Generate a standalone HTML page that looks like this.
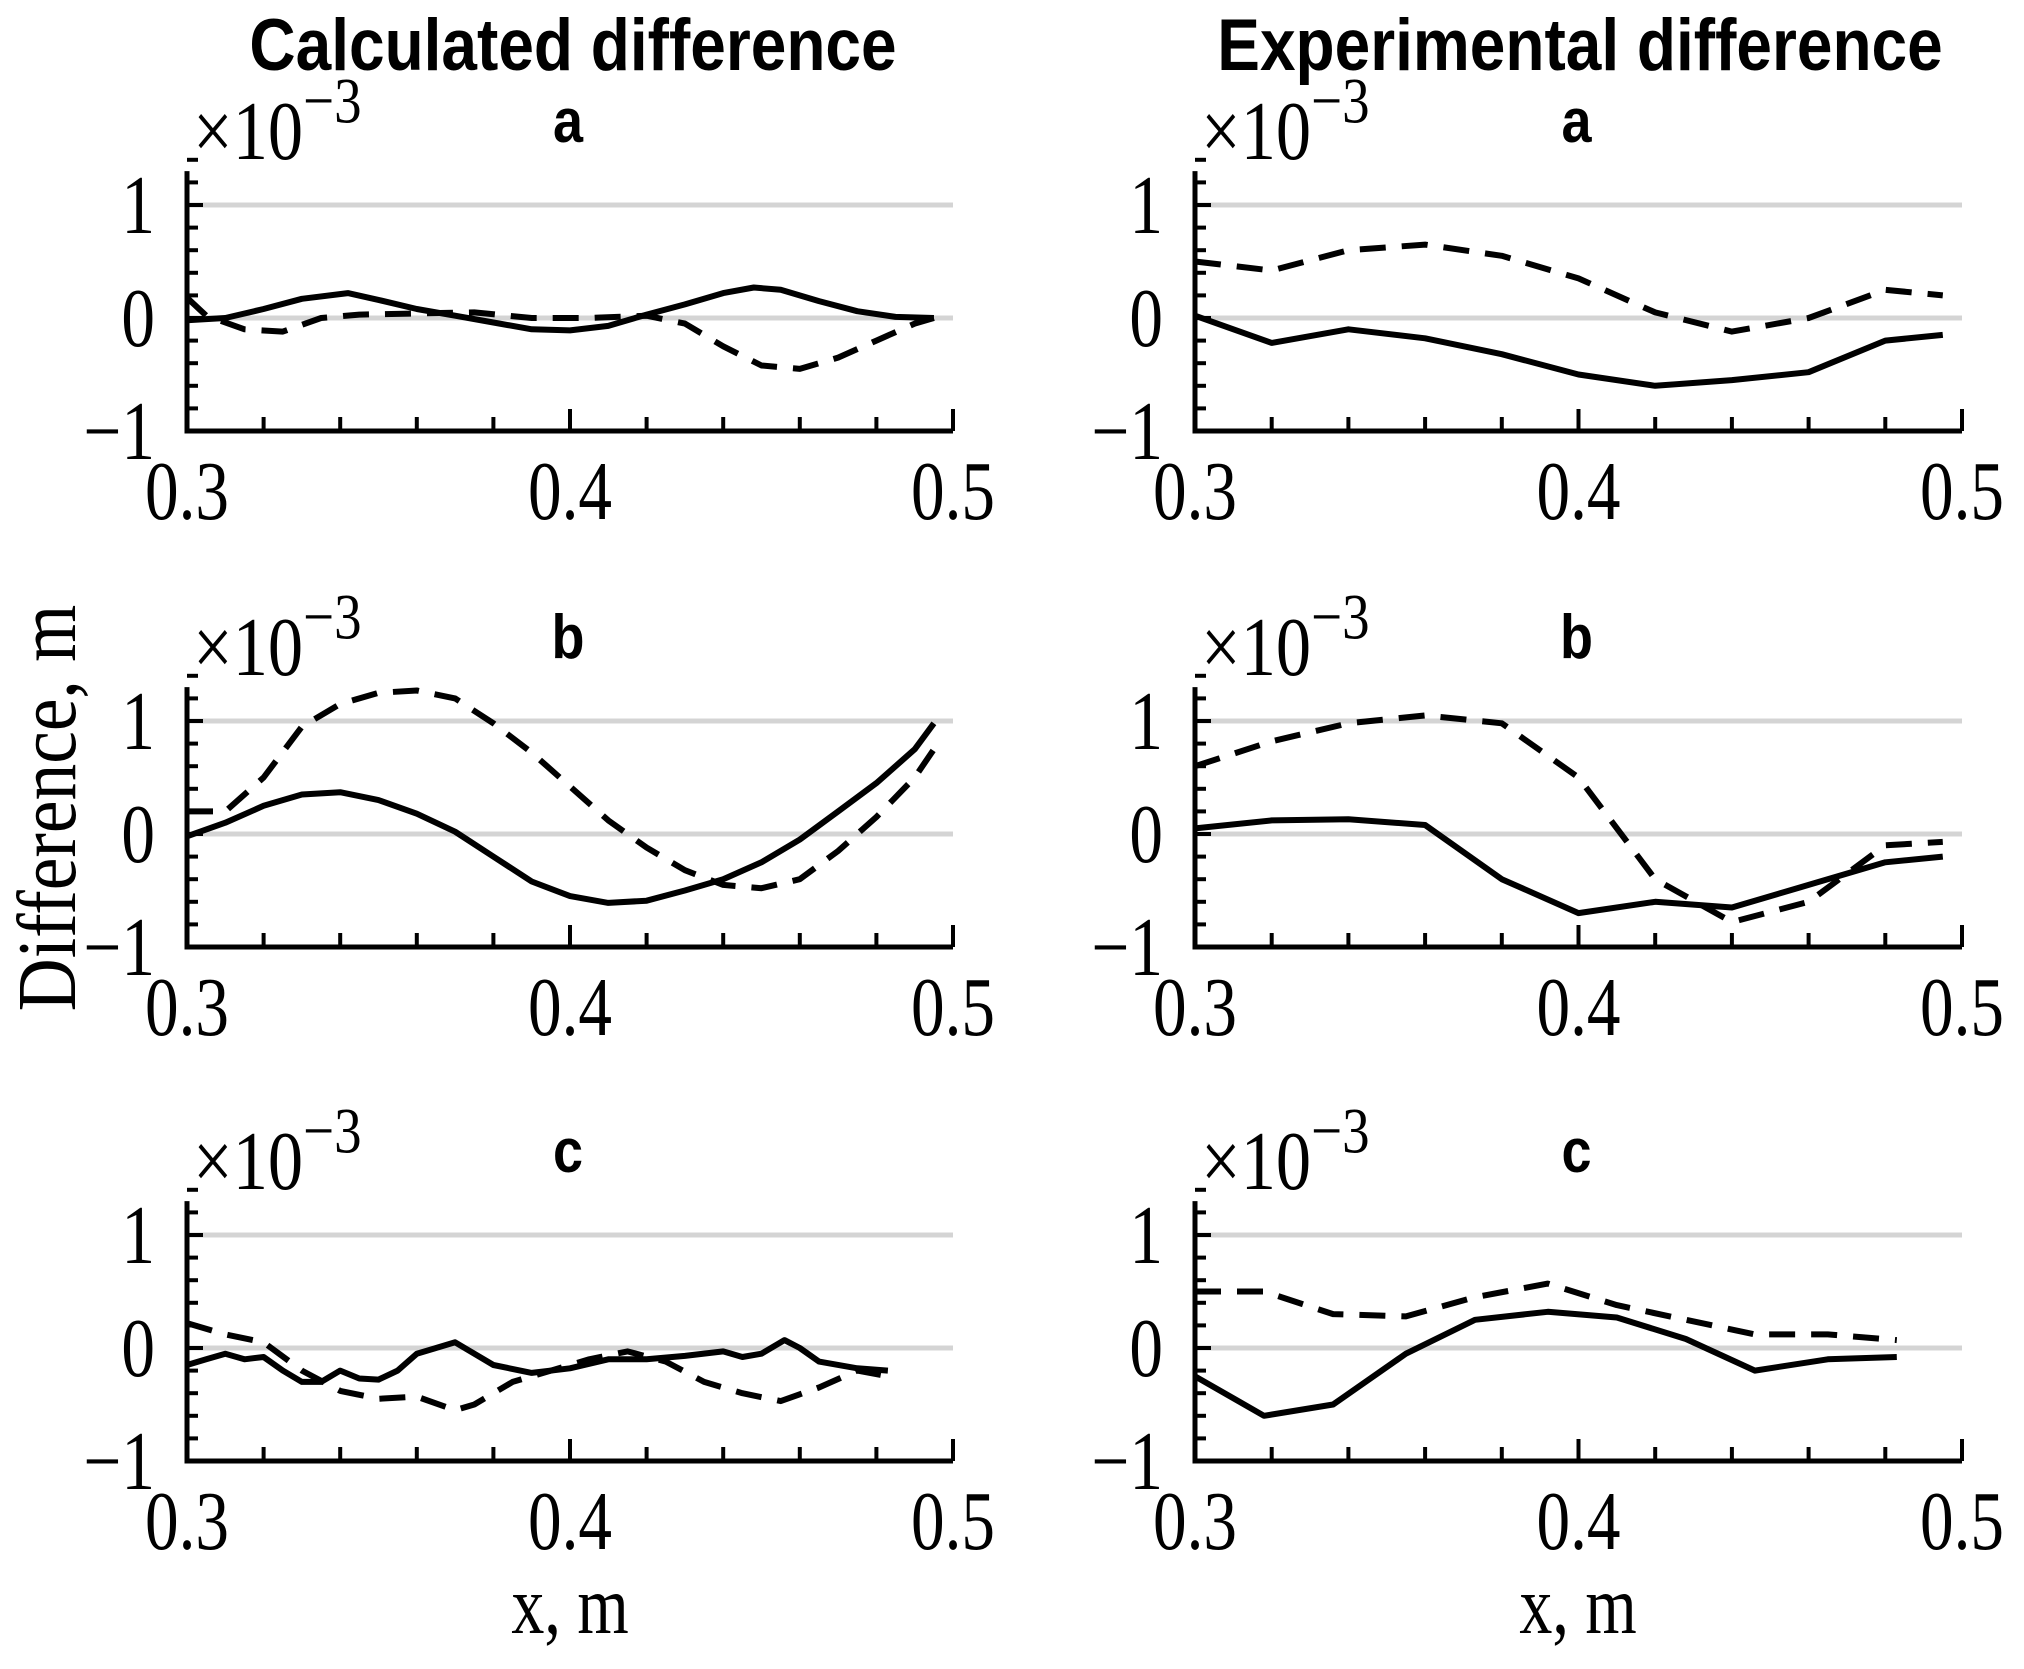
<!DOCTYPE html>
<html><head><meta charset="utf-8"><style>
html,body{margin:0;padding:0;background:#fff}
svg{display:block}
</style></head><body>
<svg id="fig" xmlns="http://www.w3.org/2000/svg" width="2024" height="1669" viewBox="0 0 2024 1669">
<rect width="2024" height="1669" fill="#fff"/>
<text transform="translate(573,70) scale(1,1.15)" text-anchor="middle" font-family="Liberation Sans, sans-serif" font-weight="bold" font-size="64">Calculated difference</text>
<text transform="translate(1580,70) scale(1,1.15)" text-anchor="middle" font-family="Liberation Sans, sans-serif" font-weight="bold" font-size="64">Experimental difference</text>
<text transform="translate(75,808) rotate(-90) scale(1.05,1.2)" text-anchor="middle" font-family="Liberation Serif, serif" font-size="70">Difference, m</text>
<text transform="translate(570,1633) scale(1,1.25)" text-anchor="middle" font-family="Liberation Serif, serif" font-size="66">x, m</text>
<text transform="translate(1578,1633) scale(1,1.25)" text-anchor="middle" font-family="Liberation Serif, serif" font-size="66">x, m</text>
<g id="plots"></g>
</svg>
<script>
// data (units of 1e-3 m)
const calcA_sx=[0.3,0.31,0.32,0.33,0.342,0.35,0.36,0.37,0.38,0.39,0.4,0.41,0.42,0.43,0.44,0.448,0.455,0.465,0.475,0.485,0.495];
const calcA_sy=[-0.02,0.0,0.08,0.17,0.22,0.16,0.08,0.02,-0.04,-0.1,-0.11,-0.07,0.03,0.12,0.22,0.27,0.25,0.15,0.06,0.01,0.0];
const calcA_dx=[0.3,0.305,0.315,0.325,0.335,0.345,0.36,0.375,0.39,0.405,0.42,0.43,0.44,0.45,0.46,0.47,0.48,0.49,0.495];
const calcA_dy=[0.18,0.02,-0.1,-0.12,0.0,0.03,0.04,0.05,0.0,0.0,0.02,-0.05,-0.25,-0.42,-0.45,-0.35,-0.2,-0.05,0.0];
const calcB_sx=[0.3,0.31,0.32,0.33,0.34,0.35,0.36,0.37,0.38,0.39,0.4,0.41,0.42,0.43,0.44,0.45,0.46,0.47,0.48,0.49,0.495];
const calcB_sy=[-0.02,0.1,0.25,0.35,0.37,0.3,0.18,0.02,-0.2,-0.42,-0.55,-0.61,-0.59,-0.5,-0.4,-0.25,-0.05,0.2,0.45,0.75,0.98];
const calcB_dx=[0.3,0.31,0.32,0.33,0.34,0.35,0.36,0.37,0.38,0.39,0.4,0.41,0.42,0.43,0.44,0.45,0.46,0.47,0.48,0.49,0.495];
const calcB_dy=[0.2,0.2,0.5,0.95,1.15,1.25,1.27,1.2,0.98,0.72,0.42,0.12,-0.12,-0.32,-0.45,-0.48,-0.4,-0.15,0.15,0.5,0.75];
const calcC_sx=[0.3,0.305,0.31,0.315,0.32,0.325,0.33,0.335,0.34,0.345,0.35,0.355,0.36,0.365,0.37,0.375,0.38,0.39,0.4,0.41,0.42,0.43,0.44,0.445,0.45,0.456,0.46,0.465,0.475,0.483];
const calcC_sy=[-0.15,-0.1,-0.05,-0.1,-0.08,-0.2,-0.3,-0.3,-0.2,-0.27,-0.28,-0.2,-0.05,0.0,0.05,-0.05,-0.15,-0.22,-0.18,-0.1,-0.1,-0.07,-0.03,-0.08,-0.05,0.07,0.0,-0.12,-0.18,-0.2];
const calcC_dx=[0.3,0.31,0.32,0.33,0.34,0.35,0.36,0.37,0.375,0.385,0.395,0.405,0.415,0.425,0.435,0.445,0.455,0.465,0.475,0.483];
const calcC_dy=[0.22,0.12,0.05,-0.2,-0.38,-0.45,-0.43,-0.55,-0.5,-0.3,-0.2,-0.1,-0.03,-0.12,-0.3,-0.4,-0.47,-0.35,-0.2,-0.25];
const expA_x=[0.3,0.32,0.34,0.36,0.38,0.4,0.42,0.44,0.46,0.48,0.495];
const expA_sy=[0.02,-0.22,-0.1,-0.18,-0.32,-0.5,-0.6,-0.55,-0.48,-0.2,-0.15];
const expA_dy=[0.5,0.42,0.6,0.65,0.55,0.35,0.05,-0.12,0.0,0.25,0.2];
const expB_x=[0.3,0.32,0.34,0.36,0.38,0.4,0.42,0.44,0.46,0.48,0.495];
const expB_sy=[0.05,0.12,0.13,0.08,-0.4,-0.7,-0.6,-0.65,-0.45,-0.25,-0.2];
const expB_dy=[0.6,0.82,0.98,1.05,0.98,0.5,-0.4,-0.78,-0.6,-0.1,-0.07];
const expC_x=[0.3,0.318,0.336,0.355,0.373,0.392,0.41,0.428,0.446,0.465,0.483];
const expC_sy=[-0.25,-0.6,-0.5,-0.05,0.25,0.32,0.27,0.08,-0.2,-0.1,-0.08];
const expC_dy=[0.5,0.5,0.3,0.28,0.45,0.57,0.38,0.25,0.12,0.12,0.07];
const xTickLabels=["0.3","0.4","0.5"];
const yTickLabels=["1","0","\u22121"];
const panelLetters=["a","b","c"];

const NS="http://www.w3.org/2000/svg";
const g=document.getElementById('plots');
function mk(tag,attrs,parent){const e=document.createElementNS(NS,tag);for(const k in attrs)e.setAttribute(k,attrs[k]);(parent||g).appendChild(e);return e;}
const colX=[[187,953],[1195,1962]];
const rowZero=[318,834,1348];
const UNIT=113;
const panels=[
 [[calcA_sx,calcA_sy,calcA_dx,calcA_dy],[expA_x,expA_sy,expA_x,expA_dy]],
 [[calcB_sx,calcB_sy,calcB_dx,calcB_dy],[expB_x,expB_sy,expB_x,expB_dy]],
 [[calcC_sx,calcC_sy,calcC_dx,calcC_dy],[expC_x,expC_sy,expC_x,expC_dy]]
];
for(let r=0;r<3;r++)for(let c=0;c<2;c++){
 const L=colX[c][0],R=colX[c][1],z=rowZero[r];
 const xs=v=>L+(v-0.3)/0.2*(R-L);
 const ys=v=>z-v*UNIT;
 const p=mk('g',{});
 
 
 [1,0].forEach(v=>{const gl=mk('line',{x1:L,x2:R,y1:ys(v),y2:ys(v),stroke:'#d4d4d4','stroke-width':5},p);
  });
 const bot=ys(-1),top=ys(1.3);
 const ax=mk('path',{d:`M${L},${top}V${bot}H${R}`,fill:'none',stroke:'#000','stroke-width':5},p);
 
 for(let i=1;i<=10;i++){const x=xs(0.3+i*0.02);const len=(i%5==0)?22:14;
  const t=mk('line',{x1:x,x2:x,y1:bot,y2:bot-len,stroke:'#000','stroke-width':4},p);
  }
 for(let i=0;i<12;i++){const v=-0.8+i*0.2;const y=ys(v);const len=(Math.abs(v-Math.round(v))<0.01)?16:11;
  const t=mk('line',{x1:L,x2:L+len,y1:y,y2:y,stroke:'#000','stroke-width':4},p);
  }
 xTickLabels.forEach(s=>{const t=mk('text',{transform:`translate(${xs(parseFloat(s))},${bot+88}) scale(1.05,1.3)`,'text-anchor':'middle','font-family':'Liberation Serif, serif','font-size':64},p);t.textContent=s;
  });
 yTickLabels.forEach((s,i)=>{const v=1-i;const t=mk('text',{transform:`translate(${L-32},${ys(v)+28}) scale(1.05,1.3)`,'text-anchor':'end','font-family':'Liberation Serif, serif','font-size':64},p);t.textContent=s;
  });
 const ex=mk('text',{transform:`translate(${L+6},${z-159}) scale(1.1,1.3)`,'font-family':'Liberation Serif, serif','font-size':64},p);
 
 ex.innerHTML='\u00d710<tspan font-size="50" dy="-28">\u22123</tspan>';
 const lt=mk('text',{transform:`translate(${(L+R)/2-2},${z-176}) scale(1,1.15)`,'text-anchor':'middle','font-family':'Liberation Sans, sans-serif','font-weight':'bold','font-size':54},p);
 lt.textContent=panelLetters[r];
 
 const d=panels[r][c];
 const pts=(X,Y)=>X.map((x,i)=>xs(x).toFixed(1)+','+ys(Y[i]).toFixed(1)).join(' ');
 const dl=mk('polyline',{points:pts(d[2],d[3]),fill:'none',stroke:'#000','stroke-width':6,'stroke-dasharray':'26 16','stroke-linejoin':'round'},p);
 
 const sl=mk('polyline',{points:pts(d[0],d[1]),fill:'none',stroke:'#000','stroke-width':6,'stroke-linejoin':'round'},p);
 
}
</script>
</body></html>
